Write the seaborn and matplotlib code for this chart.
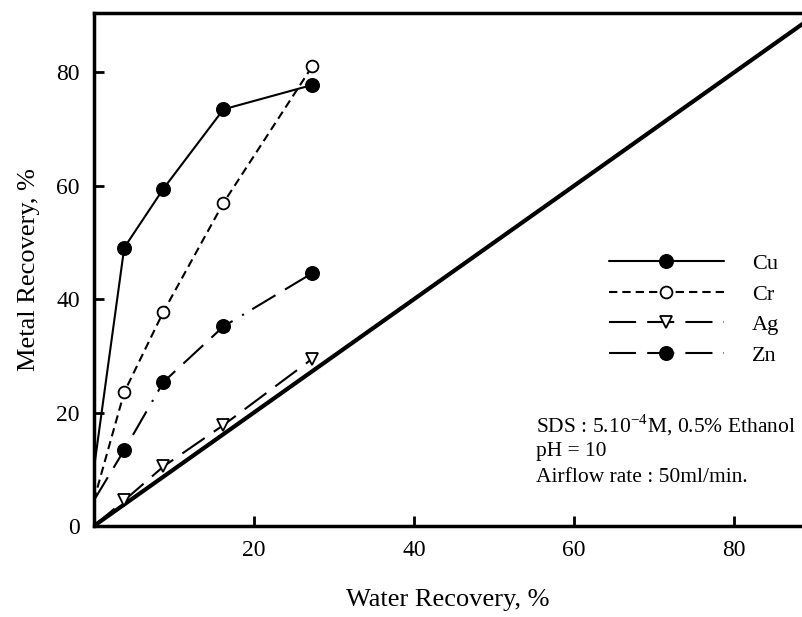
import numpy as np
import pandas as pd
import seaborn as sns
import matplotlib.pyplot as plt
from matplotlib.lines import Line2D

# water recovery (%) - first value is the line start on the y axis
water = [0, 3.8, 8.7, 16.2, 27.3]

cu = [10, 49.1, 59.5, 73.5, 77.8]
cr = [4.5, 23.6, 37.8, 57.0, 81.1]
ag = [0, 4.5, 10.5, 17.8, 29.5]
zn = [4.5, 13.4, 25.4, 35.2, 44.6]

metals = ["Cu", "Cr", "Ag", "Zn"]
ref_line = [0, 90]

x_ticks = [20, 40, 60, 80]
y_ticks = [0, 20, 40, 60, 80]

notes = ["SDS : 5.10$^{\\mathregular{-4}}$M, 0.5% Ethanol", "pH = 10", "Airflow rate : 50ml/min."]

sns.set_style("ticks", {"axes.edgecolor": "black", "text.color": "black",
                        "xtick.color": "black", "ytick.color": "black",
                        "axes.labelcolor": "black"})
plt.rcParams['font.family'] = ['Liberation Serif', 'DejaVu Serif']
plt.rcParams['mathtext.fontset'] = 'stix'
plt.rcParams['lines.scale_dashes'] = False

fig = plt.figure(figsize=(8.02, 6.17), dpi=100)
ax = fig.add_axes([0.117, 0.1475, 0.883, 0.8315])

styles = {
    "Cu": dict(ls='-', marker='o', mfc='black', ms=9.5),
    "Cr": dict(ls=(0, (6, 3.6)), marker='o', mfc='white', ms=8.5),
    "Ag": dict(ls=(0, (19.5, 8)), marker='v', mfc='white', ms=8.5),
    "Zn": dict(ls=(0, (19.5, 8, 19.5, 8, 19.5, 8, 1.5, 7)), marker='o', mfc='black', ms=9.5),
}
series = {"Cu": cu, "Cr": cr, "Ag": ag, "Zn": zn}

# 1:1 line
sns.lineplot(x=ref_line, y=ref_line, ax=ax, color='black', lw=3)

handles = []
for m in metals:
    st = styles[m]
    sns.lineplot(x=water, y=series[m], ax=ax, color='black', lw=1.5,
                 linestyle=st['ls'], marker=st['marker'], markersize=st['ms'],
                 markerfacecolor=st['mfc'], markeredgecolor='black',
                 markeredgewidth=1.3, markevery=[1, 2, 3, 4])
    handles.append(Line2D([], [], color='black', lw=1.5, linestyle=st['ls'],
                          marker=st['marker'], markersize=st['ms'],
                          markerfacecolor=st['mfc'], markeredgecolor='black',
                          markeredgewidth=1.3))

ax.set_xlim(0, 88.5)
ax.set_ylim(0, 90.5)
ax.set_xticks(x_ticks)
ax.set_yticks(y_ticks)
ax.tick_params(direction='in', length=7, width=2, labelsize=17, pad=10)
for s in ['left', 'bottom', 'top']:
    ax.spines[s].set_linewidth(2.5)
ax.spines['right'].set_visible(False)

ax.set_xlabel("Water Recovery, %", fontsize=19, labelpad=20)
ax.set_ylabel("Metal Recovery, %", fontsize=19, labelpad=12)

fig.legend(handles, metals, loc='upper left', bbox_to_anchor=(0.759, 0.589), frameon=False,
           fontsize=16, handlelength=5.2, handletextpad=1.25, labelspacing=0.45,
           borderpad=0, borderaxespad=0, numpoints=1)

for note, yy in zip(notes, [17.8, 13.2, 8.6]):
    ax.text(55.2, yy, note, fontsize=15.5, va='center')

plt.savefig("out.png", dpi=100)
